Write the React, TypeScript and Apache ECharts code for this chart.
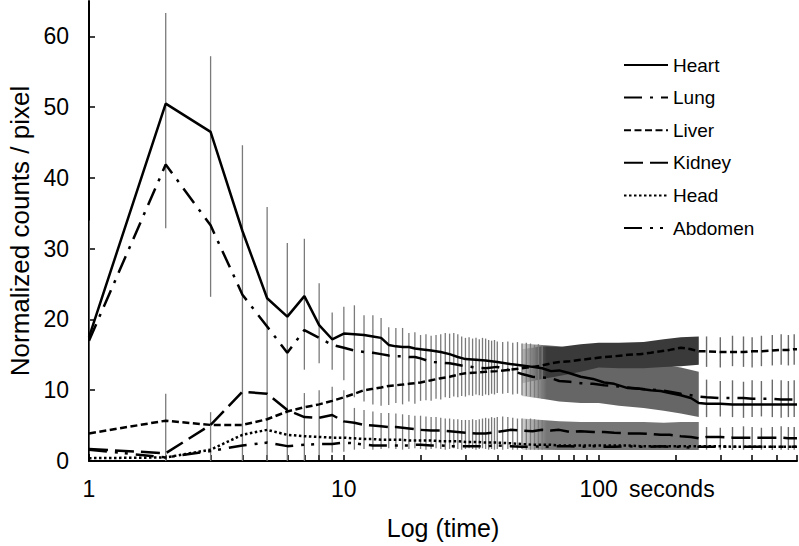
import React, { useEffect, useRef } from "react";
import * as echarts from "echarts";

// ---- line series (time in seconds, normalized counts / pixel) ----
const lineTimes = [1, 2, 3, 4, 5, 6, 7, 8, 9, 10, 11, 12, 13, 14, 15, 16, 17, 18, 19, 20, 22, 24, 26, 28, 30, 33, 36, 40, 45, 50, 55, 60, 65, 70, 77, 85, 95, 105, 115, 130, 145, 160, 175, 190, 210, 230, 247, 265, 300, 335, 370, 400, 435, 480, 520, 555, 585, 600];

const heart = [17.5, 50.5, 46.5, 32.5, 23.0, 20.4, 23.3, 19.2, 17.2, 18.0, 17.9, 17.8, 17.6, 17.4, 16.4, 16.2, 16.1, 16.1, 15.9, 15.8, 15.6, 15.4, 15.1, 14.7, 14.4, 14.3, 14.2, 14.0, 13.7, 13.5, 13.3, 13.1, 12.7, 12.8, 12.4, 11.9, 11.6, 11.1, 10.9, 10.3, 10.2, 10.0, 9.9, 9.6, 9.3, 8.9, 8.2, 8.1, 8.1, 8.0, 8.0, 8.0, 8.0, 8.0, 8.0, 8.0, 8.0, 8.0];
const lung = [17.0, 41.9, 33.3, 23.5, 19.0, 15.3, 18.5, 17.4, 16.4, 16.0, 15.6, 15.4, 15.3, 15.1, 14.9, 14.8, 14.8, 14.7, 14.7, 14.5, 14.0, 13.9, 13.8, 13.6, 13.4, 13.2, 13.1, 13.3, 12.8, 12.3, 11.9, 11.8, 11.7, 11.3, 11.2, 11.0, 10.9, 10.7, 10.6, 10.4, 10.2, 10.1, 10.0, 9.8, 9.5, 9.3, 9.1, 9.0, 8.9, 8.9, 8.9, 8.8, 8.8, 8.8, 8.7, 8.7, 8.7, 8.7];
const liver = [3.9, 5.7, 5.1, 5.1, 5.9, 7.0, 7.6, 8.0, 8.5, 9.0, 9.5, 10.0, 10.2, 10.4, 10.6, 10.7, 10.8, 10.9, 11.0, 11.1, 11.4, 11.7, 11.9, 12.2, 12.4, 12.5, 12.6, 12.7, 12.9, 13.1, 13.3, 13.5, 13.8, 14.0, 14.1, 14.3, 14.5, 14.7, 14.8, 15.0, 15.1, 15.3, 15.5, 15.7, 16.0, 15.8, 15.5, 15.5, 15.4, 15.4, 15.4, 15.5, 15.5, 15.6, 15.7, 15.7, 15.8, 15.8];
const kidney = [1.7, 1.1, 5.1, 9.8, 9.5, 7.2, 6.2, 6.1, 6.5, 5.6, 5.4, 5.1, 5.0, 4.9, 4.8, 4.8, 4.7, 4.6, 4.5, 4.4, 4.3, 4.3, 4.2, 4.1, 4.0, 3.9, 3.9, 4.1, 4.4, 4.3, 4.2, 4.4, 4.3, 4.4, 4.1, 4.2, 4.1, 4.1, 4.0, 3.9, 3.9, 3.8, 3.7, 3.7, 3.5, 3.4, 3.2, 3.4, 3.4, 3.3, 3.3, 3.3, 3.3, 3.3, 3.3, 3.2, 3.2, 3.2];
const head = [0.4, 0.5, 1.6, 3.7, 4.4, 3.7, 3.5, 3.4, 3.3, 3.3, 3.2, 3.1, 3.1, 3.0, 3.0, 3.0, 3.0, 2.9, 2.9, 2.9, 2.9, 2.8, 2.8, 2.8, 2.7, 2.7, 2.6, 2.6, 2.5, 2.4, 2.3, 2.3, 2.3, 2.2, 2.2, 2.2, 2.2, 2.2, 2.2, 2.2, 2.1, 2.1, 2.1, 2.1, 2.1, 2.1, 2.1, 2.1, 2.1, 2.0, 2.0, 2.0, 2.0, 2.0, 2.0, 2.0, 2.0, 2.0];
const abdomen = [1.6, 0.5, 1.4, 2.2, 2.6, 2.1, 2.3, 2.4, 2.4, 2.6, 2.5, 2.3, 2.2, 2.2, 2.2, 2.2, 2.2, 2.2, 2.3, 2.3, 2.2, 2.2, 2.1, 2.1, 2.1, 2.1, 2.1, 2.2, 2.1, 2.0, 2.0, 2.1, 2.0, 2.1, 2.1, 2.0, 2.1, 2.0, 2.0, 2.1, 2.0, 2.0, 2.1, 2.0, 2.0, 1.9, 2.0, 2.0, 2.0, 2.0, 2.0, 2.0, 2.0, 2.0, 2.0, 2.0, 2.0, 2.0];

// ---- individual error bars, early phase ----
const barTimes = [1, 2, 3, 4, 5, 6, 7, 8, 9, 10, 11, 12, 13, 14, 15, 16, 17, 18, 19, 20, 21, 22, 23, 24, 25, 26, 27, 28, 29, 30, 31, 32, 33, 34, 35, 36, 37, 38, 39, 40, 42, 44, 46, 48, 50, 52, 54, 56, 58, 60];
const upperHi = [34, 63.3, 57.2, 44.6, 35.9, 30.8, 31.4, 25.1, 21.0, 21.8, 22.0, 20.6, 20.6, 20.2, 18.9, 18.8, 18.8, 18.1, 18.2, 17.8, 17.9, 17.7, 17.8, 17.9, 18.1, 18.0, 18.1, 17.9, 17.6, 17.4, 17.5, 17.3, 17.4, 17.2, 17.4, 17.3, 17.1, 17.0, 17.1, 16.9, 16.8, 16.9, 16.7, 16.8, 16.6, 16.7, 16.6, 16.4, 16.5, 16.4];
const upperLo = [1, 32.9, 23.2, 0, 0, 0, 12.9, 13.8, 12.9, 11.4, 9.0, 8.4, 8.0, 7.8, 7.9, 8.2, 8.0, 8.4, 8.1, 8.5, 8.6, 8.5, 8.8, 8.7, 9.0, 8.9, 9.1, 9.0, 9.2, 9.1, 9.3, 9.2, 9.4, 9.3, 9.2, 9.4, 9.3, 9.5, 9.4, 9.6, 9.5, 9.6, 9.4, 9.5, 9.3, 9.2, 9.1, 9.0, 8.9, 8.8];
const lowerHi = [null, 9.5, 6.9, null, null, null, 9.6, 10.0, 10.5, 10.0, 7.5, 7.2, 7.0, 6.8, 6.8, 6.7, 6.6, 6.5, 6.4, 6.4, 6.3, 6.2, 6.2, 6.1, 6.0, 6.0, 5.9, 5.9, 5.8, 5.8, 5.8, 5.9, 5.8, 5.9, 6.0, 6.1, 6.0, 6.2, 6.1, 6.2, 6.3, 6.2, 6.1, 6.0, 6.0, 5.9, 6.0, 5.9, 5.8, 5.8];
const lowerLo = [null, 0, 0, null, null, null, 0, 0.8, 1.2, 1.3, 1.6, 1.7, 1.6, 1.7, 1.8, 1.7, 1.6, 1.7, 1.8, 1.7, 1.6, 1.7, 1.8, 1.7, 1.6, 1.7, 1.8, 1.7, 1.6, 1.7, 1.8, 1.7, 1.6, 1.7, 1.8, 1.7, 1.6, 1.7, 1.6, 1.7, 1.6, 1.7, 1.6, 1.6, 1.7, 1.6, 1.6, 1.6, 1.6, 1.6];

// ---- dense error bars (merged into bands), 50–247 s ----
const bandTimes = [50, 60, 70, 85, 100, 120, 150, 180, 210, 247];
const liverBandHi = [15.8, 16.2, 16.1, 16.5, 16.7, 16.7, 16.8, 17.2, 17.5, 17.6];
const liverBandLo = [11.0, 11.6, 12.0, 12.6, 13.2, 13.1, 13.1, 13.3, 13.4, 13.6];
const heartBandHi = [16.6, 16.4, 16.2, 15.6, 15.0, 14.5, 14.0, 13.6, 13.2, 12.6];
const heartBandLo = [9.2, 8.8, 8.4, 8.2, 8.2, 7.8, 7.5, 7.1, 6.7, 6.2];
const lowBandHi = [6.0, 5.8, 5.6, 5.5, 5.5, 5.5, 5.5, 5.4, 5.5, 5.5];
const lowBandLo = [1.6, 1.6, 1.55, 1.55, 1.55, 1.55, 1.55, 1.55, 1.55, 1.55];

// ---- sparse error bars, late phase ----
const sparseTimes = [265, 300, 335, 370, 400, 435, 480, 520, 555, 585];
const liverSparseHi = [17.6, 17.5, 17.7, 17.6, 17.5, 17.7, 17.8, 17.9, 17.8, 17.9];
const liverSparseLo = [13.3, 13.2, 13.4, 13.3, 13.2, 13.4, 13.5, 13.6, 13.5, 13.6];
const heartSparseHi = [11.5, 11.3, 11.4, 11.2, 11.4, 11.3, 11.5, 11.4, 11.3, 11.4];
const heartSparseLo = [6.2, 6.3, 6.2, 6.1, 6.2, 6.3, 6.2, 6.1, 6.2, 6.2];
const lowSparseHi = [4.8, 4.7, 4.8, 4.9, 4.8, 4.7, 4.8, 4.9, 4.8, 4.8];
const lowSparseLo = [1.6, 1.6, 1.55, 1.6, 1.55, 1.6, 1.55, 1.6, 1.55, 1.6];

// ---- axes ----
const xTickValues = [1, 2, 3, 4, 5, 6, 7, 8, 9, 10, 20, 30, 40, 50, 60, 70, 80, 90, 100, 200, 300, 400, 500, 600];
const xLabelValues = [1, 10, 100];
const yTickValues = [0, 10, 20, 30, 40, 50, 60];

const FONT = "'Liberation Sans', Arial, sans-serif";

const lineDefs = [
  { name: "Heart", values: heart, dash: "solid" as any },
  { name: "Lung", values: lung, dash: [18, 8, 3, 8] },
  { name: "Liver", values: liver, dash: [7, 3.5] },
  { name: "Kidney", values: kidney, dash: [19, 7] },
  { name: "Head", values: head, dash: [2.5, 2.5] },
  { name: "Abdomen", values: abdomen, dash: [18, 8, 3, 7, 3, 8] },
];

function barSeries(times: number[], lo: (number | null)[], hi: (number | null)[], color: string, width: number, z: number) {
  const data = times
    .map((t, i) => [t, lo[i], hi[i]])
    .filter((d) => d[1] != null && d[2] != null);
  return {
    type: "custom",
    silent: true,
    z,
    clip: true,
    encode: { x: 0, y: [1, 2] },
    data,
    renderItem: (_p: any, api: any) => {
      const a = api.coord([api.value(0), api.value(1)]);
      const b = api.coord([api.value(0), api.value(2)]);
      return {
        type: "line",
        shape: { x1: a[0], y1: a[1], x2: b[0], y2: b[1] },
        style: { stroke: color, lineWidth: width },
      };
    },
  };
}

function bandSeries(times: number[], lo: number[], hi: number[], color: string, z: number) {
  const data = times.map((t, i) => [t, lo[i], hi[i]]);
  const fill = new echarts.graphic.LinearGradient(0, 0, 1, 0, [
    { offset: 0, color: "rgba(150,150,150,0.45)" },
    { offset: 0.14, color },
    { offset: 1, color },
  ]);
  return {
    type: "custom",
    silent: true,
    z,
    clip: true,
    encode: { x: 0, y: [1, 2] },
    data,
    renderItem: (params: any, api: any) => {
      if (params.dataIndex !== 0) return null;
      const top = times.map((t, i) => api.coord([t, hi[i]]));
      const bottom = times.map((t, i) => api.coord([t, lo[i]])).reverse();
      return {
        type: "polygon",
        shape: { points: top.concat(bottom) },
        style: { fill },
      };
    },
  };
}

export default function App() {
  const ref = useRef<HTMLDivElement>(null);

  useEffect(() => {
    if (!ref.current) return;
    const chart = echarts.init(ref.current, null, { renderer: "svg" });

    const lines = lineDefs.map((d) => ({
      name: d.name,
      type: "line",
      data: lineTimes.map((t, i) => [t, d.values[i]]),
      symbol: "none",
      showSymbol: false,
      z: 10,
      lineStyle: { color: "#000", width: 2.5, type: d.dash },
      itemStyle: { color: "#000" },
    }));

    chart.setOption({
      animation: false,
      backgroundColor: "#fff",
      grid: { left: 89, right: 2, top: 1, bottom: 85, containLabel: false, outerBoundsMode: "none" },
      legend: {
        data: lineDefs.map((d) => d.name),
        orient: "vertical",
        left: 623,
        top: 55,
        itemWidth: 44,
        itemHeight: 14,
        itemGap: 12.6,
        padding: 0,
        itemStyle: { opacity: 0, borderWidth: 0 },
        textStyle: { fontSize: 19, color: "#000", fontFamily: FONT, lineHeight: 20 },
      },
      xAxis: {
        type: "log",
        logBase: 10,
        min: 1,
        max: 600,
        name: "Log (time)",
        nameLocation: "middle",
        nameGap: 54,
        nameTextStyle: { fontSize: 25, color: "#000", fontFamily: FONT },
        axisLine: { show: true, lineStyle: { color: "#000", width: 2 } },
        axisTick: { show: true, inside: true, length: 6, lineStyle: { color: "#000", width: 1.5 }, customValues: xTickValues },
        axisLabel: { fontSize: 23, color: "#000", fontFamily: FONT, margin: 16, customValues: xLabelValues },
        splitLine: { show: false },
        minorTick: { show: false },
      },
      yAxis: {
        type: "value",
        min: 0,
        max: 65,
        name: "Normalized counts / pixel",
        nameLocation: "middle",
        nameGap: 56,
        nameTextStyle: { fontSize: 26, color: "#000", fontFamily: FONT },
        axisLine: { show: true, lineStyle: { color: "#000", width: 2 } },
        axisTick: { show: true, inside: true, length: 6, lineStyle: { color: "#000", width: 1.5 }, customValues: yTickValues },
        axisLabel: { fontSize: 23, color: "#000", fontFamily: FONT, margin: 20, customValues: yTickValues },
        splitLine: { show: false },
      },
      graphic: [
        {
          type: "text",
          x: 629,
          y: 489,
          style: { text: "seconds", fontSize: 23, fontFamily: FONT, fill: "#000", verticalAlign: "middle" },
        },
      ],
      series: [
        bandSeries(bandTimes, heartBandLo, heartBandHi, "#666666", 1),
        bandSeries(bandTimes, lowBandLo, lowBandHi, "#767676", 1),
        bandSeries(bandTimes, liverBandLo, liverBandHi, "#3a3a3a", 2),
        barSeries(barTimes, upperLo, upperHi, "#7a7a7a", 1.3, 3),
        barSeries(barTimes, lowerLo, lowerHi, "#7a7a7a", 1.3, 3),
        barSeries(sparseTimes, liverSparseLo, liverSparseHi, "#6a6a6a", 1.4, 3),
        barSeries(sparseTimes, heartSparseLo, heartSparseHi, "#6a6a6a", 1.4, 3),
        barSeries(sparseTimes, lowSparseLo, lowSparseHi, "#6a6a6a", 1.4, 3),
        ...lines,
      ],
    });

    return () => chart.dispose();
  }, []);

  return (
    <div
      ref={ref}
      style={{ position: "fixed", left: 0, top: 0, width: 799, height: 546, background: "#fff" }}
    />
  );
}
